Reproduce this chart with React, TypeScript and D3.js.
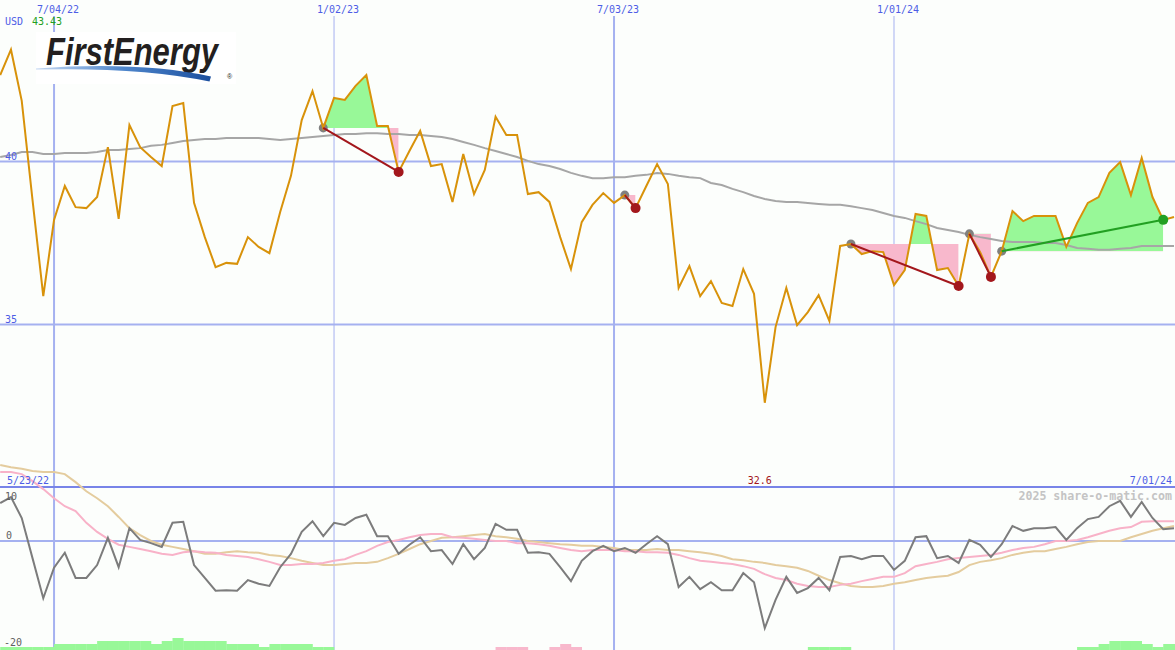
import * as d3 from 'd3'

const W = 1175
const H = 650

const startWeek = new Date(2022, 4, 30)
const endWeek = new Date(2024, 6, 1)

// weekly close, USD
const price = [
  42.65, 43.43, 41.86, 38.82, 35.87, 38.21, 39.25, 38.6, 38.57, 38.91,
  40.44, 38.24, 41.12, 40.44, 40.14, 39.86, 41.7, 41.79, 38.73, 37.68,
  36.76, 36.89, 36.86, 37.68, 37.38, 37.19, 38.45, 39.56, 41.27, 42.16,
  41.03, 41.95, 41.89, 42.32, 42.65, 41.09, 41.09, 39.68, 40.32, 40.94,
  39.86, 39.92, 38.76, 40.23, 39.0, 39.74, 41.37, 40.81, 40.81, 39.0,
  39.06, 38.76, 37.68, 36.7, 38.14, 38.67, 39.03, 38.73, 38.97, 38.57,
  39.25, 39.92, 39.31, 36.12, 36.79, 35.87, 36.33, 35.66, 35.57, 36.7,
  35.94, 32.6, 34.92, 36.12, 34.98, 35.38, 35.9, 35.11, 37.41, 37.47,
  37.16, 37.25, 37.22, 36.21, 36.67, 38.39, 38.33, 36.67, 36.73, 36.18,
  37.78, 37.22, 36.46, 37.25, 38.48, 38.17, 38.33, 38.33, 38.33, 37.38,
  38.11, 38.73, 38.91, 39.65, 39.98, 38.97, 40.11, 38.91, 38.21, 38.3,
]

// long moving average (grey)
const priceMA = [
  40.14, 40.2, 40.29, 40.29, 40.23, 40.23, 40.26, 40.26, 40.26, 40.29,
  40.35, 40.35, 40.38, 40.41, 40.48, 40.51, 40.57, 40.63, 40.66, 40.69,
  40.69, 40.72, 40.72, 40.72, 40.72, 40.69, 40.66, 40.69, 40.72, 40.75,
  40.78, 40.81, 40.84, 40.84, 40.87, 40.87, 40.84, 40.84, 40.81, 40.81,
  40.78, 40.75, 40.69, 40.6, 40.51, 40.41, 40.32, 40.23, 40.14, 40.02,
  39.92, 39.86, 39.77, 39.65, 39.56, 39.49, 39.49, 39.52, 39.52, 39.56,
  39.59, 39.65, 39.62, 39.56, 39.52, 39.49, 39.34, 39.28, 39.16, 39.06,
  38.94, 38.85, 38.79, 38.76, 38.76, 38.73, 38.7, 38.67, 38.67, 38.63,
  38.57, 38.51, 38.42, 38.33, 38.27, 38.17, 38.08, 37.96, 37.9, 37.84,
  37.75, 37.68, 37.62, 37.56, 37.53, 37.53, 37.53, 37.5, 37.5, 37.44,
  37.35, 37.32, 37.29, 37.29, 37.32, 37.35, 37.41, 37.41, 37.41, 37.41,
]

// lower panel: % distance from the average
const osc = [
  7.1, 8.2, 4.3, -3.2, -10.7, -5.0, -2.2, -6.9, -6.9, -4.5,
  0.6, -4.9, 2.4, 0.2, -0.4, -1.1, 3.4, 3.6, -4.5, -6.9,
  -9.3, -9.2, -9.3, -7.3, -8.0, -8.4, -4.9, -2.4, 1.7, 3.7,
  0.9, 3.4, 3.0, 4.3, 4.9, 0.9, 0.9, -2.4, -0.7, 0.7,
  -1.9, -1.7, -4.3, -0.6, -3.4, -1.3, 3.2, 2.1, 2.1, -2.2,
  -2.1, -2.4, -4.9, -7.5, -3.7, -1.9, -0.9, -1.9, -1.3, -2.2,
  -0.6, 0.9, -0.6, -8.6, -6.7, -9.0, -7.7, -9.2, -9.2, -6.0,
  -7.7, -16.3, -11.0, -6.7, -9.7, -8.8, -6.9, -9.2, -3.0, -2.8,
  -3.4, -2.8, -2.8, -5.4, -3.7, 0.7, 0.9, -3.2, -2.8, -4.1,
  0.2, -0.7, -3.0, -0.6, 2.8, 1.9, 2.4, 2.4, 2.6, 0.2,
  2.4, 4.1, 4.5, 6.5, 7.5, 4.5, 7.3, 4.3, 2.2, 2.4,
]

const oscFast = [
  12.9, 12.9, 12.5, 11.2, 9.7, 8.0, 6.5, 5.6, 3.4, 1.7,
  0.4, -0.7, -1.1, -1.5, -1.9, -2.4, -2.6, -2.1, -1.9, -2.1,
  -2.2, -2.6, -2.8, -3.0, -3.4, -3.9, -4.5, -4.5, -4.3, -4.3,
  -4.1, -3.7, -3.4, -2.6, -1.9, -0.9, -0.2, 0.2, 0.7, 1.1,
  1.3, 1.3, 0.7, 0.6, 0.4, 0.2, 0.0, 0.0, -0.4, -0.4,
  -0.6, -0.9, -1.3, -1.7, -1.9, -1.7, -1.7, -1.7, -1.9, -1.9,
  -2.1, -2.1, -2.2, -2.6, -3.2, -3.7, -3.9, -4.1, -4.3, -4.7,
  -5.2, -6.2, -6.9, -7.3, -8.0, -8.4, -8.6, -8.6, -8.2, -8.0,
  -7.5, -7.1, -6.7, -6.7, -6.0, -4.7, -4.3, -3.9, -3.4, -3.2,
  -3.0, -2.8, -2.6, -2.2, -1.7, -1.3, -1.1, -0.6, 0.0, 0.0,
  0.2, 0.7, 1.3, 1.9, 2.4, 2.6, 3.6, 3.7, 3.7, 3.7,
]

const oscSlow = [
  14.2, 13.8, 13.5, 13.1, 12.9, 12.9, 12.5, 11.0, 9.3, 8.0,
  6.5, 4.5, 2.4, 1.1, 0.0, -0.7, -1.1, -1.5, -1.9, -2.4,
  -2.4, -2.1, -1.9, -2.1, -2.2, -2.6, -2.8, -3.2, -3.7, -4.1,
  -4.5, -4.5, -4.3, -4.1, -4.1, -3.9, -3.2, -2.4, -1.5, -0.6,
  0.0, 0.6, 0.7, 0.9, 1.1, 1.3, 0.9, 0.7, 0.4, 0.0,
  -0.2, -0.4, -0.6, -0.7, -0.9, -0.9, -1.1, -1.3, -1.7, -1.7,
  -1.7, -1.5, -1.7, -1.7, -1.9, -2.1, -2.4, -2.8, -3.4, -3.6,
  -3.9, -4.1, -4.5, -4.7, -5.0, -5.6, -6.5, -7.3, -7.9, -8.4,
  -8.6, -8.6, -8.4, -8.0, -7.7, -7.3, -6.9, -6.7, -6.5, -5.8,
  -4.5, -3.9, -3.6, -3.2, -2.6, -2.2, -1.9, -1.9, -1.5, -1.1,
  -0.6, -0.2, 0.0, 0.0, 0.0, 0.7, 1.3, 1.9, 2.4, 2.8,
]

// strength bars along the bottom (+ green, - pink)
const signalBars = [
  1, 1, 1, 1, 1, 2, 2, 2, 2, 3,
  3, 3, 3, 3, 2, 3, 4, 3, 3, 3,
  3, 2, 2, 2, 1, 2, 2, 2, 2, 1,
  1, 0, 0, 0, 0, 0, 0, 0, 0, 0,
  0, 0, 0, 0, 0, 0, -1, -1, -1, 0,
  0, -1, -2, -1, 0, 0, 0, 0, 0, 0,
  0, 0, 0, 0, 0, 0, 0, 0, 0, 0,
  0, 0, 0, 0, 0, 1, 1, 1, 1, 0,
  0, 0, 0, 0, 0, 0, 0, 0, 0, 0,
  0, 0, 0, 0, 0, 0, 0, 0, 0, 0,
  1, 1, 2, 3, 3, 3, 2, 1, 2, 2,
]

// trades as week indexes
const tradeEntries = [30, 58, 79, 90, 93]
const tradeExits = [37, 59, 89, 92, 108]

const dateTicks = [new Date(2022, 6, 4), new Date(2023, 0, 2), new Date(2023, 6, 3), new Date(2024, 0, 1)]
const dateTickLabels = ['7/04/22', '1/02/23', '7/03/23', '1/01/24']
const dateTickWidths = [2, 1, 2, 1]
const priceTicks = [40, 35]

const weeks = d3.timeMonday.range(startWeek, d3.timeDay.offset(endWeek, 1))

const BLUE = '#4d5de6'
const GRID = '#a5b1f0'
const MONO = '"DejaVu Sans Mono", monospace'

export default function App() {
  const x = d3.scaleTime().domain([startWeek, endWeek]).range([0.2, 1174])
  const y = d3.scaleLinear().domain([35, 40]).range([324.5, 161.5])
  const yo = d3.scaleLinear().domain([-20, 10]).range([648, 487.5])
  const yb = d3.scaleLinear().domain([0, 4]).range([650, 638])
  const step = x(weeks[1]) - x(weeks[0])

  const xi = (i: number) => x(weeks[i])
  const priceLine = d3.line<number>().x((_, i) => xi(i)).y((d) => y(d))
  const oscLine = d3.line<number>().x((_, i) => xi(i)).y((d) => yo(d))

  const minIdx = d3.minIndex(price)
  const maxVal = d3.max(price)!

  const trades = tradeEntries.map((e, t) => {
    const ex = tradeExits[t]
    const idx = d3.range(e, ex + 1)
    const level = y(price[e])
    const area = d3.area<number>().x((i) => xi(i)).y0(level).y1((i) => y(price[i]))(idx)!
    return { e, ex, level, area, x0: xi(e), x1: xi(ex), win: price[ex] > price[e] }
  })

  return (
    <div style={{ position: 'absolute', left: 0, top: 0 }}>
      <svg width={W} height={H} style={{ display: 'block', background: '#fcfefc' }}>
        <defs>
          {trades.map((t, k) => (
            <g key={k}>
              <clipPath id={`up${k}`}>
                <rect x={t.x0} y={0} width={t.x1 - t.x0} height={t.level} />
              </clipPath>
              <clipPath id={`dn${k}`}>
                <rect x={t.x0} y={t.level} width={t.x1 - t.x0} height={H - t.level} />
              </clipPath>
            </g>
          ))}
          <linearGradient id="swoosh" x1="0" x2="1" y1="0" y2="0">
            <stop offset="0" stopColor="#c5d8f2" />
            <stop offset="0.5" stopColor="#4f86cc" />
            <stop offset="1" stopColor="#1b4f9e" />
          </linearGradient>
        </defs>

        {/* grid */}
        {priceTicks.map((p) => (
          <line key={p} x1={0} x2={W} y1={y(p)} y2={y(p)} stroke={GRID} strokeWidth={2} />
        ))}
        {dateTicks.map((d, i) => (
          <line key={i} x1={x(d)} x2={x(d)} y1={16} y2={H} stroke={GRID} strokeWidth={dateTickWidths[i]} />
        ))}
        <line x1={0} x2={W} y1={yo(0)} y2={yo(0)} stroke={GRID} strokeWidth={2} />
        <line x1={0} x2={W} y1={yo(10) - 0.5} y2={yo(10) - 0.5} stroke="#7884e8" strokeWidth={2} />

        {/* signal bars */}
        {signalBars.map((v, i) =>
          v === 0 ? null : (
            <rect key={i} x={xi(i)} y={yb(Math.abs(v))} width={step + 0.3} height={H - yb(Math.abs(v))}
              fill={v > 0 ? '#98f898' : '#f8b8cc'} />
          ))}

        {/* trade shading */}
        {trades.map((t, k) => (
          <g key={k}>
            <path d={t.area} fill="#98f898" clipPath={`url(#up${k})`} />
            <path d={t.area} fill="#f8b8cc" clipPath={`url(#dn${k})`} />
          </g>
        ))}

        {/* lower panel lines */}
        <path d={oscLine(oscSlow)!} fill="none" stroke="#e4cc9e" strokeWidth={2} />
        <path d={oscLine(oscFast)!} fill="none" stroke="#f8b2c8" strokeWidth={2} />
        <path d={oscLine(osc)!} fill="none" stroke="#7c7c7c" strokeWidth={2} />

        {/* price panel */}
        <path d={priceLine(priceMA)!} fill="none" stroke="#a6a6a6" strokeWidth={2} />
        {trades.map((t, k) => (
          <circle key={k} cx={t.x0} cy={t.level} r={4.5} fill="#808080" />
        ))}
        <path d={priceLine(price)!} fill="none" stroke="#d8920a" strokeWidth={2} />
        {trades.map((t, k) => (
          <g key={k}>
            <line x1={t.x0} y1={t.level} x2={t.x1} y2={y(price[t.ex])}
              stroke={t.win ? '#22a022' : '#a3171c'} strokeWidth={2} />
            <circle cx={t.x1} cy={y(price[t.ex])} r={5} fill={t.win ? '#22a022' : '#a3171c'} />
          </g>
        ))}

        {/* logo */}
        <rect x={36} y={32} width={200} height={52} fill="#ffffff" />
        <text x={46} y={65} fontFamily="'Liberation Sans', Arial, sans-serif" fontWeight={700} fontStyle="italic"
          fontSize={39} fill="#231f20" textLength={172} lengthAdjust="spacingAndGlyphs">FirstEnergy</text>
        <path d="M36,68.5 Q140,61 211,76.5 L209.5,81.5 Q140,67 36,69.6 Z" fill="url(#swoosh)" />
        <text x={227} y={79} fontFamily="'Liberation Sans', Arial, sans-serif" fontSize={7} fill="#231f20">®</text>

        {/* labels */}
        <g fontFamily={MONO} fontSize={10}>
          {dateTicks.map((d, i) => (
            <text key={i} x={x(d) + 4} y={12.5} textAnchor="middle" fill={BLUE}>{dateTickLabels[i]}</text>
          ))}
          <text x={5} y={25} fill={BLUE}>USD</text>
          <text x={32} y={25} fill="#22a022">{maxVal.toFixed(2)}</text>
          {priceTicks.map((p) => (
            <text key={p} x={5} y={y(p) - 1.5} fill={BLUE}>{p}</text>
          ))}
          <text x={7} y={483.5} fill={BLUE}>{d3.timeFormat('%-m/%d/%y')(d3.timeWeek.offset(startWeek, -1))}</text>
          <text x={1172} y={483.5} textAnchor="end" fill={BLUE}>{d3.timeFormat('%-m/%d/%y')(endWeek)}</text>
          <text x={xi(minIdx) - 5} y={483.5} textAnchor="middle" fill="#a3171c">{price[minIdx].toFixed(1)}</text>
          <text x={5} y={500} fill="#606060">10</text>
          <text x={6} y={538.5} fill="#606060">0</text>
          <text x={4} y={646} fill="#606060">-20</text>
          <text x={1172} y={500} textAnchor="end" fontSize={11.6} fontWeight={700} fill="#c4c4c4">2025 share-o-matic.com</text>
        </g>
      </svg>
    </div>
  )
}
